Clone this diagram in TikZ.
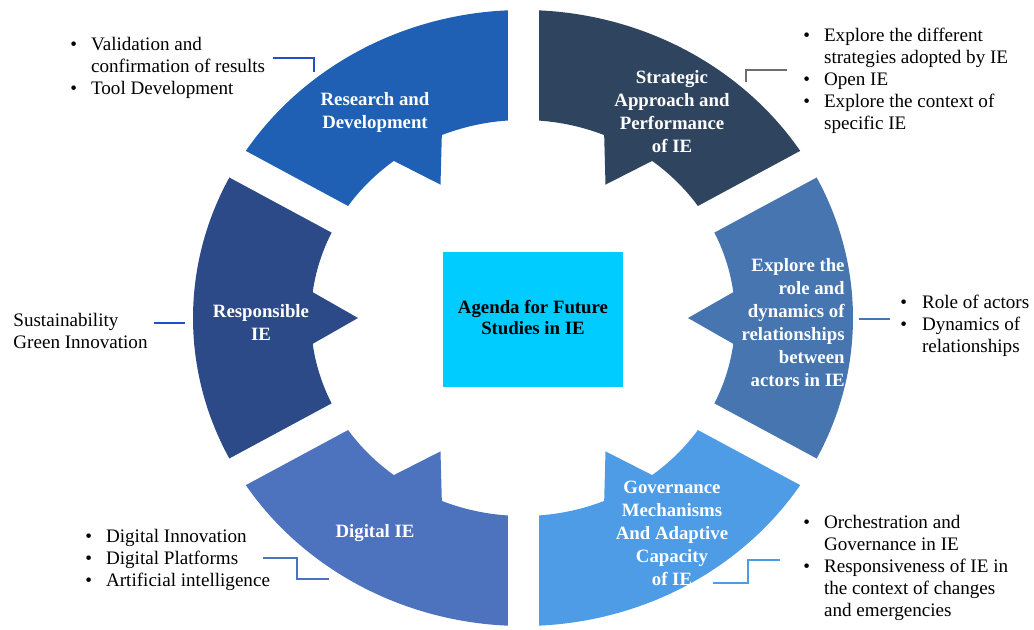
\documentclass[tikz,border=0pt]{standalone}
\usepackage{fontspec}
\setmainfont{Liberation Serif}
\usepackage{xcolor}
\usepackage{tikz}
\definecolor{rdblue}{HTML}{1F5FB4}
\definecolor{saslate}{HTML}{2F445E}
\definecolor{exblue}{HTML}{4675B0}
\definecolor{gvblue}{HTML}{4E9CE6}
\definecolor{dgblue}{HTML}{4E73BE}
\definecolor{rsblue}{HTML}{2B4A87}
\definecolor{agcyan}{HTML}{00CCFF}
\definecolor{rdline}{HTML}{2050C8}
\definecolor{saline}{HTML}{6E6E6E}
\newcommand*{\itembul}{\textbullet}

\begin{document}
\begin{tikzpicture}[x=0.5pt, y=0.5pt]
      \useasboundingbox (0,0) rectangle (1034,629);
      \tikzstyle{segtext}=[text=white, inner sep=0pt, align=center,
        font=\fontsize{9.4}{11.5}\selectfont\bfseries]
      \tikzstyle{listtext}=[inner sep=0pt, anchor=west, align=left,
        font=\fontsize{9.55}{11}\selectfont]
      \tikzstyle{link}=[line width=1.1pt]

      % ring of six segments
      \begin{scope}[shift={(523,311)}, xscale=1.0714]
        \foreach \m/\c in {120/rdblue, 60/saslate, 0/exblue, -60/gvblue, -120/dgblue, 180/rsblue}
        {
          \fill [\c] ({\m+30}:308) arc [start angle=\m+30, end angle=\m-30, radius=308]
            -- ({\m-30}:198) arc [start angle=\m-30, end angle=\m-7.5, radius=198]
            -- (\m:154) -- ({\m+7.5}:198)
            arc [start angle=\m+7.5, end angle=\m+30, radius=198] -- cycle;
        }
        \foreach \b in {90, 30, -30, -90, -150, 150}
        {
          \draw [white, line width=15.5pt] (\b:175) -- (\b:316);
        }
      \end{scope}

      \node (agenda) [fill=agcyan, minimum width=90pt, minimum height=67.5pt, align=center,
        font=\fontsize{9.4}{11.5}\selectfont\bfseries] at (533,309.5)
        {\raisebox{-2pt}{\begin{tabular}{@{}c@{}}Agenda for Future\\[-1.2pt]Studies in IE\end{tabular}}};

      \node (rdlab) [segtext] at (375,516.5) {Research and\\Development};
      \node (salab) [segtext] at (672,517.5) {Strategic\\Approach and\\Performance\\of IE};
      \node (rslab) [segtext] at (261,307) {Responsible\\IE};
      \node (exlab) [segtext, align=right, anchor=east] at (845,306.5)
        {Explore the\\role and\\dynamics of\\relationships\\between\\actors in IE};
      \node (dglab) [segtext] at (375,96) {Digital IE};
      \node (gvlab) [segtext] at (672,96) {Governance\\Mechanisms\\And Adaptive\\Capacity\\of IE};

      % lists
      \node (rdlist) [listtext] at (70,560.5) {\begin{tabular}{@{}l@{\hspace{7pt}}l@{}}
        \itembul & Validation and\\ & confirmation of results\\ \itembul & Tool Development\end{tabular}};
      \node (salist) [listtext] at (803,548) {\begin{tabular}{@{}l@{\hspace{7pt}}l@{}}
        \itembul & Explore the different\\ & strategies adopted by IE\\ \itembul & Open IE\\
        \itembul & Explore the context of\\ & specific IE\end{tabular}};
      \node (rslist) [listtext] at (13,298) {Sustainability\\Green Innovation};
      \node (exlist) [listtext] at (900,302.5) {\begin{tabular}{@{}l@{\hspace{7.5pt}}l@{}}
        \itembul & Role of actors\\ \itembul & Dynamics of\\ & relationships\end{tabular}};
      \node (dglist) [listtext] at (85,68.5) {\begin{tabular}{@{}l@{\hspace{7pt}}l@{}}
        \itembul & Digital Innovation\\ \itembul & Digital Platforms\\
        \itembul & Artificial intelligence\end{tabular}};
      \node (gvlist) [listtext] at (803,61) {\begin{tabular}{@{}l@{\hspace{7pt}}l@{}}
        \itembul & Orchestration and\\ & Governance in IE\\ \itembul & Responsiveness of IE in\\
        & the context of changes\\ & and emergencies\end{tabular}};

      % connectors
      \coordinate (rd1) at (273,571);
      \coordinate (rd2) at (314,557);
      \coordinate (sa1) at (787,559);
      \coordinate (sa2) at (746,547);
      \coordinate (rs1) at (154,306);
      \coordinate (rs2) at (185,306);
      \coordinate (ex1) at (859,310);
      \coordinate (ex2) at (890,310);
      \coordinate (dg1) at (263,71);
      \coordinate (dg2) at (329,50);
      \coordinate (gv1) at (713,46);
      \coordinate (gv2) at (780,69);

      \draw [link, rdline] (rd1) -| (rd2);
      \draw [link, saline] (sa1) -| (sa2);
      \draw [link, rdline] (rs1) -- (rs2);
      \draw [link, exblue] (ex1) -- (ex2);
      \draw [link, dgblue] (dg1) -- ++(34,0) |- (dg2);
      \draw [link, gvblue] (gv1) -- ++(35,0) |- (gv2);
    \end{tikzpicture}
\end{document}
